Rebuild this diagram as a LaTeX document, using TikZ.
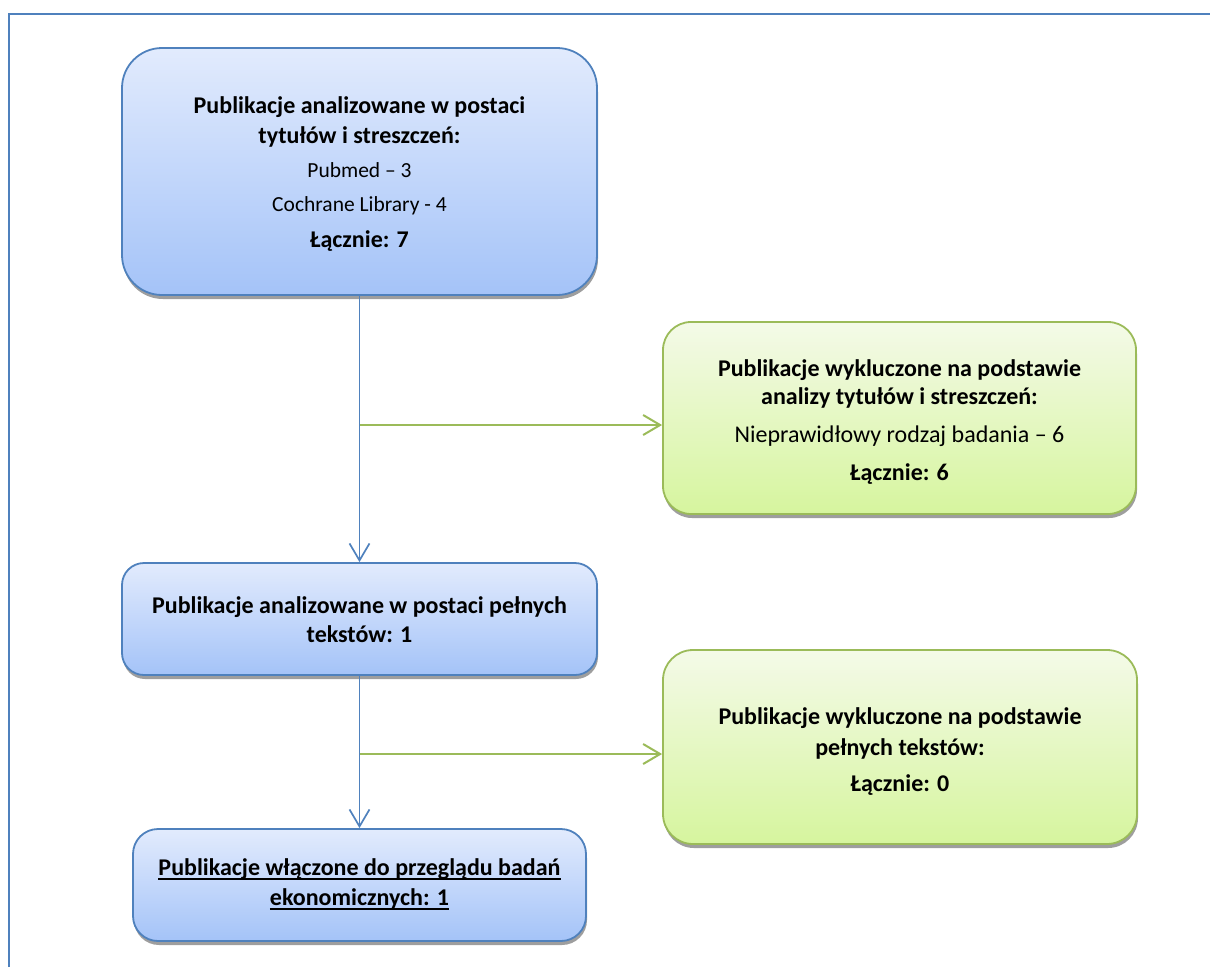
\documentclass[tikz,border=0pt]{standalone}
\usepackage{fontspec}
\setmainfont{Carlito}
\usetikzlibrary{arrows.meta,shadows}

\definecolor{frameblue}{RGB}{79,129,189}
\definecolor{bluetop}{RGB}{226,235,253}
\definecolor{bluebot}{RGB}{164,195,248}
\definecolor{greenline}{RGB}{155,187,89}
\definecolor{greentop}{RGB}{244,250,232}
\definecolor{greenbot}{RGB}{214,245,158}

% underline at a fixed depth below the baseline
\newsavebox\ulbox
\newcommand\ulinetext[1]{\sbox\ulbox{#1}\rlap{\usebox\ulbox}\rule[-4.5pt]{\wd\ulbox}{1.5pt}}

\tikzset{
  boxbase/.style={rectangle, inner sep=0pt,
    drop shadow={shadow xshift=1pt, shadow yshift=-4pt, fill=black, opacity=0.38}},
  bluebox/.style={boxbase, draw=frameblue, line width=1.8pt,
    top color=bluetop, bottom color=bluebot},
  greenbox/.style={boxbase, draw=greenline, line width=1.8pt,
    top color=greentop, bottom color=greenbot},
  hd/.style={inner sep=0pt, anchor=base, font=\fontsize{24}{29}\selectfont\bfseries},
  tx/.style={inner sep=0pt, anchor=base, font=\fontsize{21.5}{26}\selectfont},
  txl/.style={inner sep=0pt, anchor=base, font=\fontsize{24}{29}\selectfont},
  bluearrow/.style={draw=frameblue, line width=1.7pt,
    -{Straight Barb[length=17pt, width=20pt]}},
  greenarrow/.style={draw=greenline, line width=2pt,
    -{Straight Barb[length=17pt, width=20pt]}},
}

\begin{document}
\begin{tikzpicture}[x=1pt, y=-1pt]
\useasboundingbox (0,0) rectangle (1210,967);

% outer frame
\draw[frameblue, line width=2pt] (9,967) -- (9,14) -- (1210,14);

% boxes
\node[bluebox, rounded corners=40pt, minimum width=475pt, minimum height=247pt]
  (top) at (359.5,171.5) {};
\node[greenbox, rounded corners=28pt, minimum width=473pt, minimum height=192pt]
  (g1) at (899.5,418) {};
\node[bluebox, rounded corners=22pt, minimum width=475pt, minimum height=112pt]
  (mid) at (359.5,619) {};
\node[greenbox, rounded corners=30pt, minimum width=474pt, minimum height=194pt]
  (g2) at (900,747) {};
\node[bluebox, rounded corners=25pt, minimum width=453pt, minimum height=112pt]
  (bot) at (359.5,885) {};

% texts of the first box
\node[hd] (top1) at (359.5,113) {Publikacje analizowane w postaci};
\node[hd] (top2) at (359.5,143) {tytułów i streszczeń:};
\node[tx] (top3) at (359.5,177) {Pubmed – 3};
\node[tx] (top4) at (359.5,211) {Cochrane Library - 4};
\node[hd] (top5) at (359.5,247) {Łącznie: 7};

% texts of the first exclusion box
\node[hd] (ga1) at (899.5,376) {Publikacje wykluczone na podstawie};
\node[hd] (ga2) at (899.5,404) {analizy tytułów i streszczeń:};
\node[txl] (ga3) at (899.5,442) {Nieprawidłowy rodzaj badania – 6};
\node[hd] (ga4) at (899.5,480) {Łącznie: 6};

% texts of the full-text box
\node[hd] (mid1) at (359.5,613) {Publikacje analizowane w postaci pełnych};
\node[hd] (mid2) at (359.5,642) {tekstów: 1};

% texts of the second exclusion box
\node[hd] (gb1) at (900,724) {Publikacje wykluczone na podstawie};
\node[hd] (gb2) at (900,755) {pełnych tekstów:};
\node[hd] (gb3) at (900,791) {Łącznie: 0};

% texts of the final box
\node[hd] (bot1) at (359.5,875) {\ulinetext{Publikacje włączone do przeglądu badań}};
\node[hd] (bot2) at (359.5,905) {\ulinetext{ekonomicznych: 1}};

% connectors
\coordinate (j1) at (359.5,425);
\coordinate (j2) at (359.5,754);
\draw[bluearrow] (top.south) -- (mid.north);
\draw[bluearrow] (mid.south) -- (bot.north);
\draw[greenarrow] (j1) -- (g1.west |- j1);
\draw[greenarrow] (j2) -- (g2.west |- j2);
\end{tikzpicture}
\end{document}
